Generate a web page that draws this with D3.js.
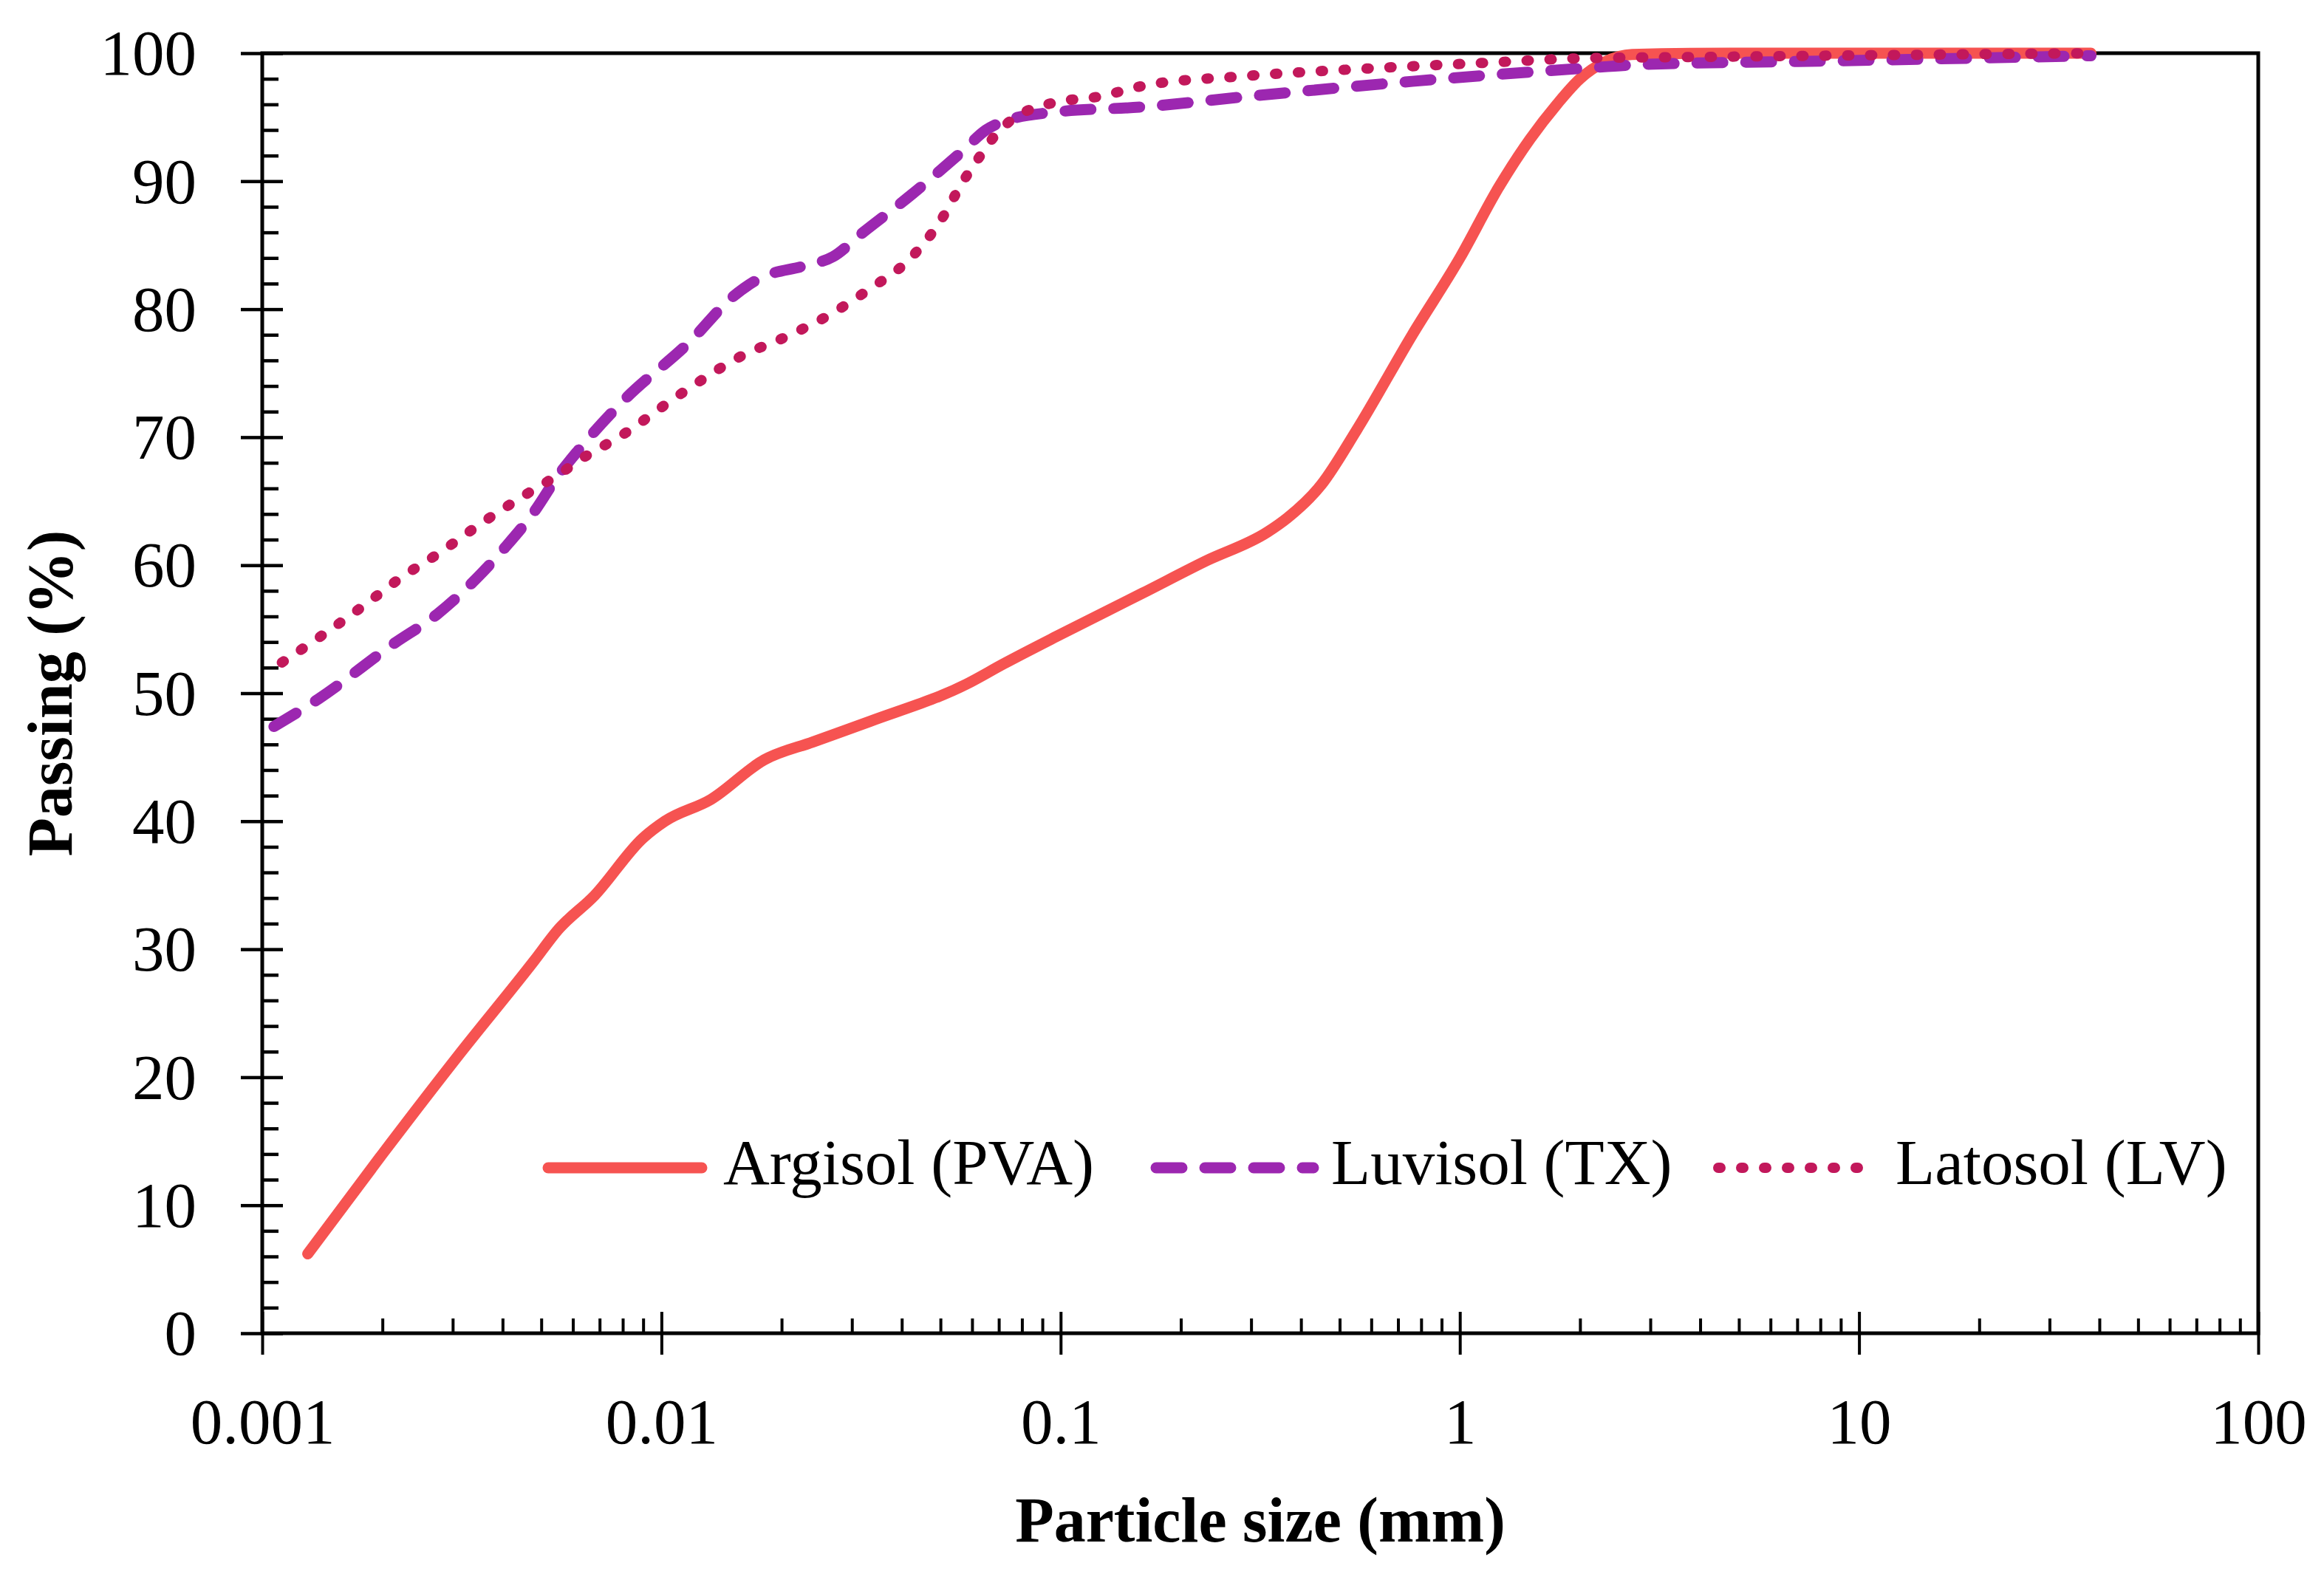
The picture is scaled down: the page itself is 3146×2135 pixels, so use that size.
<!DOCTYPE html>
<html>
<head>
<meta charset="utf-8">
<script src="https://cdn.jsdelivr.net/npm/d3@7"></script>
<style>
  html, body { margin: 0; padding: 0; background: #ffffff; }
  svg { display: block; }
  text { font-family: "Palatino Linotype", "Book Antiqua", Palatino, "Liberation Serif", serif; }
</style>
</head>
<body>
<script>
// ---------------- DATA ----------------
const argisolSize = [0.0013, 0.002, 0.0031, 0.0048, 0.0055, 0.0068, 0.009, 0.0102, 0.0133, 0.0181, 0.024, 0.0333, 0.058, 0.072, 0.1, 0.16, 0.23, 0.33, 0.37, 0.45, 0.55, 0.76, 1.0, 1.25, 1.5, 1.75, 2.0, 2.3, 2.7, 4.75, 9.5, 19, 38.1];
const argisolPass = [6.2, 14.0, 21.7, 29.1, 31.5, 34.2, 38.7, 40.0, 41.7, 44.8, 46.2, 47.8, 50.7, 52.3, 54.6, 57.8, 60.3, 62.6, 63.7, 66.3, 70.5, 78.0, 84.0, 89.5, 93.3, 96.0, 98.0, 99.3, 99.9, 100, 100, 100, 100];

const luvisolSize = [0.00107, 0.00139, 0.00212, 0.00275, 0.00345, 0.00406, 0.00478, 0.00554, 0.0062, 0.008, 0.0119, 0.015, 0.0176, 0.0229, 0.0269, 0.0317, 0.0425, 0.057, 0.065, 0.074, 0.097, 0.16, 0.29, 0.76, 1.46, 2.0, 2.8, 8.8, 38.1];
const luvisolPass = [47.4, 49.6, 53.8, 56.2, 59.0, 61.4, 64.1, 67.1, 69.0, 72.8, 77.6, 80.9, 82.4, 83.4, 84.1, 85.9, 89.0, 92.4, 94.0, 94.8, 95.4, 95.8, 96.6, 97.8, 98.5, 98.8, 99.1, 99.4, 99.8];

const latosolSize = [0.00112, 0.00141, 0.00177, 0.00222, 0.00279, 0.00351, 0.0044, 0.0056, 0.0063, 0.008, 0.0112, 0.016, 0.0207, 0.0265, 0.0333, 0.0418, 0.05, 0.057, 0.062, 0.067, 0.074, 0.095, 0.124, 0.164, 0.286, 0.586, 1.16, 2.02, 3.88, 38.1];
const latosolPass = [52.4, 54.5, 56.7, 59.0, 61.0, 63.2, 65.2, 67.2, 68.3, 70.2, 73.4, 76.4, 77.9, 79.6, 81.6, 83.9, 86.9, 90.0, 91.7, 93.2, 94.6, 96.1, 96.6, 97.5, 98.2, 98.8, 99.25, 99.6, 99.7, 100];

const seriesNames = ["Argisol (PVA)", "Luvisol (TX)", "Latosol (LV)"];
const xTickValues = [0.001, 0.01, 0.1, 1, 10, 100];
const xTickLabels = ["0.001", "0.01", "0.1", "1", "10", "100"];
const yTickValues = [0, 10, 20, 30, 40, 50, 60, 70, 80, 90, 100];
const xTitle = "Particle size (mm)";
const yTitle = "Passing (%)";

// ---------------- LAYOUT ----------------
const W = 3146, H = 2135;
const L = 355, R = 3057, T = 72, B = 1805;

const svg = d3.select("body").append("svg").attr("width", W).attr("height", H);
svg.append("rect").attr("width", W).attr("height", H).attr("fill", "#ffffff");

const x = d3.scaleLog().domain([0.001, 100]).range([L, R]);
const y = d3.scaleLinear().domain([0, 100]).range([B, T]);

const FS = 87;

// minor ticks
const xMinor = [];
for (let e = -3; e < 2; e++) for (let m = 2; m <= 9; m++) xMinor.push(m * Math.pow(10, e));
const yMinor = d3.range(0, 101, 2).filter(v => v % 10 !== 0);

// ---------- Y axis ----------
const yAxisOuter = d3.axisLeft(y).tickValues(yTickValues).tickSize(29).tickPadding(60).tickFormat(d3.format("d"));
const gy = svg.append("g").attr("transform", `translate(${L},0)`).call(yAxisOuter);
gy.select(".domain").remove();
gy.selectAll("line").attr("stroke", "#000").attr("stroke-width", 4.5);
gy.selectAll("text").attr("font-size", FS).attr("fill", "#000").attr("dy", "0.33em");

const gyIn = svg.append("g").attr("transform", `translate(${L},0)`)
  .call(d3.axisRight(y).tickValues(yTickValues).tickSize(28).tickFormat(""));
gyIn.select(".domain").remove();
gyIn.selectAll("line").attr("stroke", "#000").attr("stroke-width", 4.5);

const gyMin = svg.append("g").attr("transform", `translate(${L},0)`)
  .call(d3.axisRight(y).tickValues(yMinor).tickSize(22).tickFormat(""));
gyMin.select(".domain").remove();
gyMin.selectAll("line").attr("stroke", "#000").attr("stroke-width", 4.5);

// ---------- X axis ----------
const xAxisOuter = d3.axisBottom(x).tickValues(xTickValues).tickSize(29).tickPadding(58)
  .tickFormat((d, i) => xTickLabels[i]);
const gx = svg.append("g").attr("transform", `translate(0,${B})`).call(xAxisOuter);
gx.select(".domain").remove();
gx.selectAll("line").attr("stroke", "#000").attr("stroke-width", 4);
gx.selectAll("text").attr("font-size", FS).attr("fill", "#000");

const gxIn = svg.append("g").attr("transform", `translate(0,${B})`)
  .call(d3.axisTop(x).tickValues(xTickValues).tickSize(29).tickFormat(""));
gxIn.select(".domain").remove();
gxIn.selectAll("line").attr("stroke", "#000").attr("stroke-width", 4);

const gxMin = svg.append("g").attr("transform", `translate(0,${B})`)
  .call(d3.axisTop(x).tickValues(xMinor).tickSize(20).tickFormat(""));
gxMin.select(".domain").remove();
gxMin.selectAll("line").attr("stroke", "#000").attr("stroke-width", 4);

// ---------- frame ----------
svg.append("rect")
  .attr("x", x(0.001)).attr("y", y(100))
  .attr("width", x(100) - x(0.001)).attr("height", y(0) - y(100))
  .attr("fill", "none").attr("stroke", "#000").attr("stroke-width", 5);

// ---------- series ----------
const series = [
  { name: seriesNames[0], size: argisolSize, pass: argisolPass, color: "#F65351", width: 15, dash: null, cap: "round" },
  { name: seriesNames[1], size: luvisolSize, pass: luvisolPass, color: "#9C27B0", width: 15, dash: "35,31", cap: "round" },
  { name: seriesNames[2], size: latosolSize, pass: latosolPass, color: "#C2185B", width: 14, dash: "3,28", cap: "round" }
];

const line = d3.line()
  .x(d => x(d[0]))
  .y(d => y(d[1]))
  .curve(d3.curveMonotoneX);

series.forEach(s => {
  const pts = s.size.map((v, i) => [v, s.pass[i]]);
  const p = svg.append("path")
    .datum(pts)
    .attr("d", line)
    .attr("fill", "none")
    .attr("stroke", s.color)
    .attr("stroke-width", s.width)
    .attr("stroke-linecap", s.cap)
    .attr("stroke-linejoin", "round");
  if (s.dash) p.attr("stroke-dasharray", s.dash);
});

// ---------- legend ----------
const legendY = 1581;
const legendItems = [
  { x0: 742, x1: 950, tx: 979 },
  { x0: 1565, x1: 1778, tx: 1802 },
  { x0: 2326, x1: 2530, tx: 2566 }
];
series.forEach((s, i) => {
  const it = legendItems[i];
  const l = svg.append("line")
    .attr("x1", it.x0).attr("x2", it.x1)
    .attr("y1", legendY).attr("y2", legendY)
    .attr("stroke", s.color).attr("stroke-width", s.width)
    .attr("stroke-linecap", s.cap);
  if (s.dash) l.attr("stroke-dasharray", s.dash);
  svg.append("text")
    .attr("x", it.tx).attr("y", 1603)
    .attr("font-size", FS).attr("fill", "#000")
    .text(s.name);
});

// ---------- titles ----------
svg.append("text")
  .attr("x", (L + R) / 2).attr("y", 2087)
  .attr("text-anchor", "middle")
  .attr("font-size", 86).attr("font-weight", "bold").attr("fill", "#000")
  .text(xTitle);

svg.append("text")
  .attr("transform", `translate(97,${(T + B) / 2}) rotate(-90)`)
  .attr("text-anchor", "middle")
  .attr("font-size", 86).attr("font-weight", "bold").attr("fill", "#000")
  .text(yTitle);
</script>
</body>
</html>
